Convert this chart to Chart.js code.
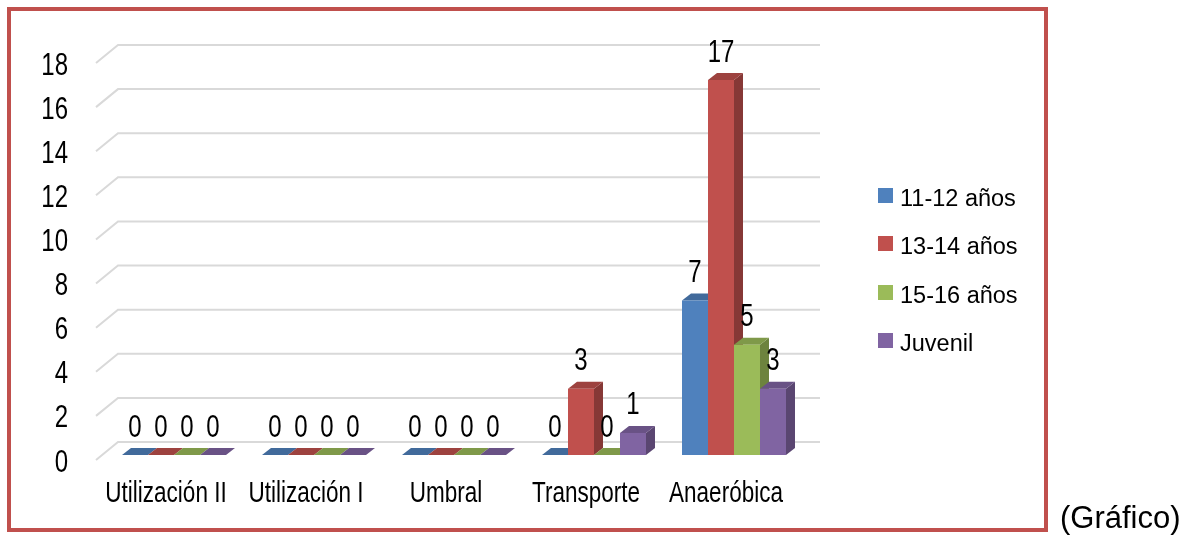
<!DOCTYPE html>
<html>
<head>
<meta charset="utf-8">
<script src="https://cdn.jsdelivr.net/npm/chart.js@4/dist/chart.umd.min.js"></script>
<style>
    body { margin: 0; background: #fff; }
    #wrap { position: relative; width: 1185px; height: 536px; overflow: hidden; }
    #grafico { position: absolute; left: 0; top: 0; }
    #marco {
        position: absolute; left: 7px; top: 7px; width: 1041px; height: 525px;
        box-sizing: border-box; border: 4.5px solid #C0504D;
    }
    #leyenda { position: absolute; left: 878px; top: 187px; font-family: "Liberation Sans", Arial, sans-serif; }
    .fila { position: absolute; left: 0; width: 160px; height: 24px; }
    .caja { position: absolute; left: 0; top: 1px; width: 15px; height: 15px; }
    .texto { position: absolute; left: 22px; top: 0; font-size: 23.5px; line-height: 23.5px; color: #000; white-space: nowrap; }
    #pie {
        position: absolute; left: 1060px; top: 502px; font-family: "Liberation Sans", Arial, sans-serif;
        font-size: 31px; line-height: 31px; color: #000;
    }
</style>
</head>
<body>
<div id="wrap">
    <canvas id="grafico" width="1185" height="536"></canvas>
    <div id="marco"></div>
    <div id="leyenda"></div>
    <div id="pie">(Gráfico)</div>
</div>
<script>
// datos
const categorias = ['Utilización II', 'Utilización I', 'Umbral', 'Transporte', 'Anaeróbica'];
const series = ['11-12 años', '13-14 años', '15-16 años', 'Juvenil'];
const anios1112 = [0, 0, 0, 0, 7];
const anios1314 = [0, 0, 0, 3, 17];
const anios1516 = [0, 0, 0, 0, 5];
const juvenil = [0, 0, 0, 1, 3];
const ejeMin = 0;
const ejeMax = 18;
const ejePaso = 2;

const colores = ['#4F81BD', '#C0504D', '#9BBB59', '#8064A2'];

// profundidad de las barras 3D
const prof = { dx: 9, dy: -7 };
const fuente = '"Liberation Sans", Arial, sans-serif';
const estrecho = 0.75;

function oscurecer(hex, f) {
    const n = parseInt(hex.slice(1), 16);
    const r = Math.round(((n >> 16) & 255) * f);
    const g = Math.round(((n >> 8) & 255) * f);
    const b = Math.round((n & 255) * f);
    return `rgb(${r}, ${g}, ${b})`;
}

// texto comprimido horizontalmente (como Arial Narrow)
function textoEstrecho(ctx, txt, x, y, align, size) {
    ctx.save();
    ctx.translate(x, y);
    ctx.scale(estrecho, 1);
    ctx.font = `${size}px ${fuente}`;
    ctx.fillStyle = '#000';
    ctx.textAlign = align;
    ctx.textBaseline = 'alphabetic';
    ctx.fillText(txt, 0, 0);
    ctx.restore();
}

function poligono(ctx, pts, color) {
    ctx.beginPath();
    ctx.moveTo(pts[0][0], pts[0][1]);
    for (let i = 1; i < pts.length; i++) ctx.lineTo(pts[i][0], pts[i][1]);
    ctx.closePath();
    ctx.fillStyle = color;
    ctx.fill();
}

const barras3d = {
    id: 'barras3d',
    beforeDatasetsDraw(chart) {
        const ctx = chart.ctx;
        const area = chart.chartArea;
        const y = chart.scales.y;

        // lineas de division con el tramo inclinado a la izquierda
        ctx.save();
        ctx.strokeStyle = '#D9D9D9';
        ctx.lineWidth = 2;
        y.ticks.forEach(t => {
            const py = y.getPixelForValue(t.value);
            ctx.beginPath();
            ctx.moveTo(area.left - 8, py + 5);
            ctx.lineTo(area.left + 14, py - 13);
            ctx.lineTo(area.right + 16, py - 13);
            ctx.stroke();
        });

        // caras superior y lateral de cada barra
        for (let j = 0; j < categorias.length; j++) {
            chart.data.datasets.forEach((ds, i) => {
                const bar = chart.getDatasetMeta(i).data[j];
                const l = bar.x - bar.width / 2;
                const r = bar.x + bar.width / 2;
                const top = bar.y;
                const base = bar.base;
                poligono(ctx, [[r, top], [r + prof.dx, top + prof.dy], [r + prof.dx, base + prof.dy], [r, base]],
                    oscurecer(colores[i], 0.7));
                poligono(ctx, [[l, top], [r, top], [r + prof.dx, top + prof.dy], [l + prof.dx, top + prof.dy]],
                    oscurecer(colores[i], 0.82));
            });
        }
        ctx.restore();
    },
    afterDatasetsDraw(chart) {
        const ctx = chart.ctx;
        const x = chart.scales.x;
        const y = chart.scales.y;

        // etiquetas de valor
        chart.data.datasets.forEach((ds, i) => {
            chart.getDatasetMeta(i).data.forEach((bar, j) => {
                textoEstrecho(ctx, String(ds.data[j]), bar.x, bar.y - 30 + 11.5, 'center', 32);
            });
        });

        // etiquetas del eje vertical
        y.ticks.forEach(t => {
            textoEstrecho(ctx, String(t.value), 68, y.getPixelForValue(t.value) + 5 + 11.5, 'right', 32);
        });

        // etiquetas de categoria
        categorias.forEach((c, j) => {
            textoEstrecho(ctx, c, x.getPixelForValue(j) - 8, 502, 'center', 30);
        });
    }
};

const datosGrafico = {
    labels: categorias,
    datasets: [anios1112, anios1314, anios1516, juvenil].map((d, i) => ({
        label: series[i],
        data: d,
        backgroundColor: colores[i],
        borderWidth: 0,
        barPercentage: 1,
        categoryPercentage: 104 / 140,
    }))
};

const grafico = new Chart(document.getElementById('grafico'), {
    type: 'bar',
    data: datosGrafico,
    options: {
        responsive: false,
        animation: false,
        events: [],
        layout: { padding: { left: 104, right: 381, top: 58, bottom: 81 } },
        plugins: {
            legend: { display: false },
            tooltip: { enabled: false },
        },
        scales: {
            x: { display: false },
            y: {
                display: false,
                min: ejeMin,
                max: ejeMax,
                ticks: { stepSize: ejePaso },
            },
        },
    },
    plugins: [barras3d],
});

// leyenda en HTML a partir de los datasets
const leyenda = document.getElementById('leyenda');
grafico.data.datasets.forEach((ds, i) => {
    const fila = document.createElement('div');
    fila.className = 'fila';
    fila.style.top = (i * 48.4) + 'px';
    const caja = document.createElement('span');
    caja.className = 'caja';
    caja.style.background = ds.backgroundColor;
    const texto = document.createElement('span');
    texto.className = 'texto';
    texto.textContent = ds.label;
    fila.appendChild(caja);
    fila.appendChild(texto);
    leyenda.appendChild(fila);
});
</script>
</body>
</html>
